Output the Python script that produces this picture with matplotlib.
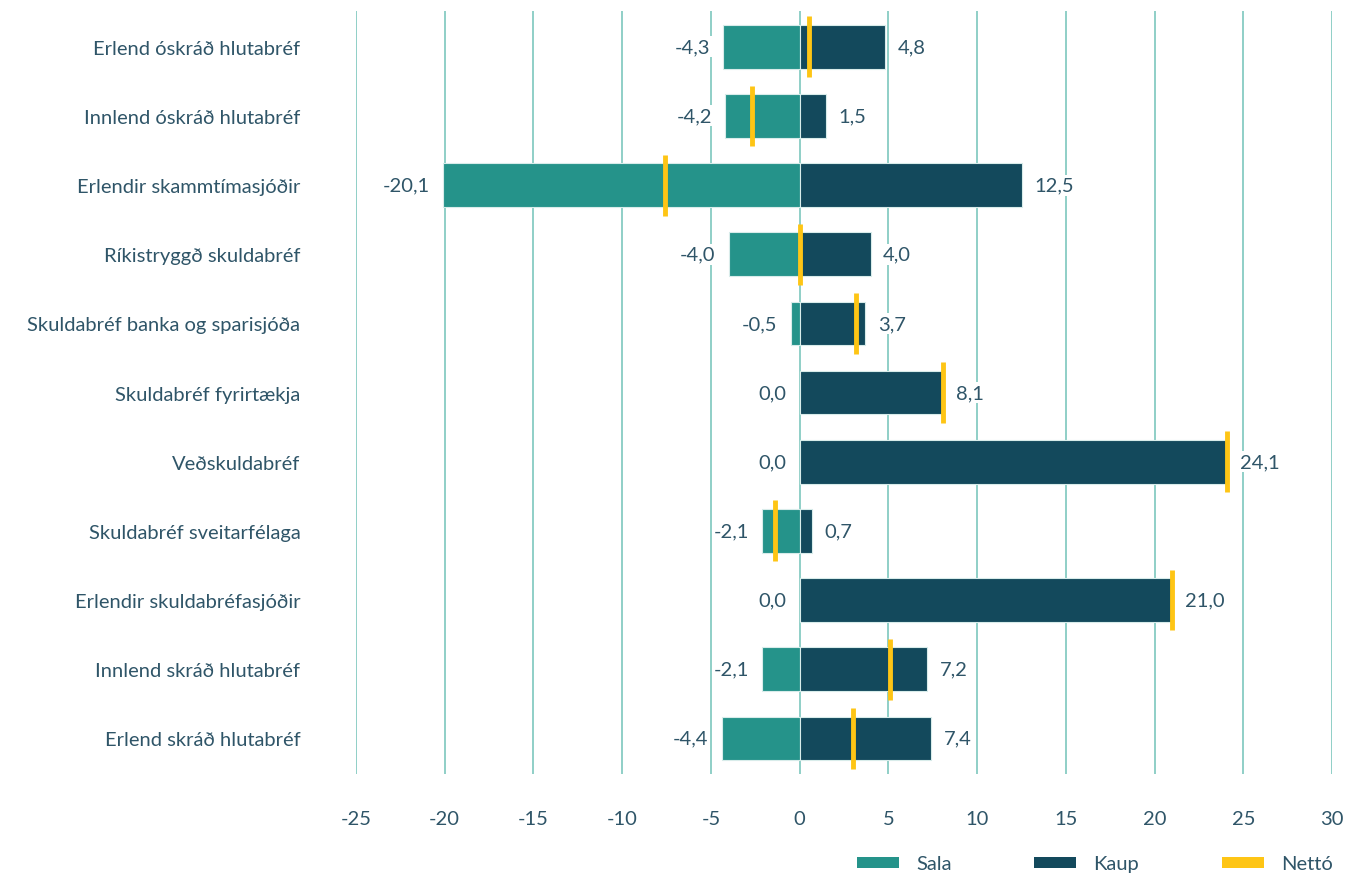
import matplotlib
matplotlib.use("Agg")
import matplotlib.pyplot as plt
from matplotlib.patches import Patch

# ── Gögn ────────────────────────────────────────────────────────
categories = [
    "Erlend óskráð hlutabréf",
    "Innlend óskráð hlutabréf",
    "Erlendir skammtímasjóðir",
    "Ríkistryggð skuldabréf",
    "Skuldabréf banka og sparisjóða",
    "Skuldabréf fyrirtækja",
    "Veðskuldabréf",
    "Skuldabréf sveitarfélaga",
    "Erlendir skuldabréfasjóðir",
    "Innlend skráð hlutabréf",
    "Erlend skráð hlutabréf",
]
sala = [-4.3, -4.2, -20.1, -4.0, -0.5, 0.0, 0.0, -2.1, 0.0, -2.1, -4.4]
kaup = [4.8, 1.5, 12.5, 4.0, 3.7, 8.1, 24.1, 0.7, 21.0, 7.2, 7.4]
netto = [0.5, -2.7, -7.6, 0.0, 3.2, 8.1, 24.1, -1.4, 21.0, 5.1, 3.0]
x_ticks = [-25, -20, -15, -10, -5, 0, 5, 10, 15, 20, 25, 30]

# ── Litir ───────────────────────────────────────────────────────
c_sala = "#25938a"
c_kaup = "#13495c"
c_netto = "#fec515"
c_grid = "#8fcfc7"
c_text = "#2f5568"

plt.rcParams["font.family"] = ["Lato", "DejaVu Sans"]
fs = 14.5

fig = plt.figure(figsize=(13.51, 8.79), dpi=100, facecolor="white")
ax = fig.add_axes([0.2635, 0.118, 0.7225, 0.8685])

ypos = list(range(len(categories)))
bar_h = 0.63

for x in x_ticks:
    ax.axvline(x, color=c_grid, lw=1.4, zorder=0)

ax.barh(ypos, sala, height=bar_h, color=c_sala, edgecolor="#d8ecea",
        linewidth=0.8, zorder=2)
ax.barh(ypos, kaup, height=bar_h, color=c_kaup, edgecolor="#d8ecea",
        linewidth=0.8, zorder=2)

# Nettó sem lóðrétt strik
for y, n in zip(ypos, netto):
    ax.plot([n, n], [y - 0.44, y + 0.44], color=c_netto, lw=3.5,
            solid_capstyle="butt", zorder=3)

# Gildismerki
lbl = dict(fontsize=fs, color=c_text, va="center", zorder=4,
           bbox=dict(facecolor="white", edgecolor="none", pad=1.5))
for y, s, k, n in zip(ypos, sala, kaup, netto):
    ax.text(min(s, 0) - 0.75, y, f"{s:.1f}".replace(".", ","), ha="right", **lbl)
    right = max(k, n)
    ax.text(right + 0.7, y, f"{k:.1f}".replace(".", ","), ha="left", **lbl)

ax.set_xlim(-25, 30)
ax.set_ylim(len(categories) - 0.48, -0.52)
ax.set_xticks(x_ticks)
ax.set_xticklabels([str(t) for t in x_ticks])
ax.set_yticks(ypos)
ax.set_yticklabels(categories)
ax.tick_params(axis="x", length=0, pad=26, labelsize=fs, labelcolor=c_text)
ax.tick_params(axis="y", length=0, pad=40, labelsize=fs, labelcolor=c_text)
for sp in ax.spines.values():
    sp.set_visible(False)

handles = [
    Patch(facecolor=c_sala, edgecolor="none"),
    Patch(facecolor=c_kaup, edgecolor="none"),
    Patch(facecolor=c_netto, edgecolor="none"),
]
fig.legend(handles, ["Sala", "Kaup", "Nettó"], ncol=3, frameon=False,
           loc="center right", bbox_to_anchor=(1.0, 0.016),
           handlelength=2.1, handleheight=0.5, handletextpad=0.85,
           columnspacing=4.1, fontsize=fs, labelcolor=c_text)

fig.savefig("out.png", dpi=100, facecolor="white")
